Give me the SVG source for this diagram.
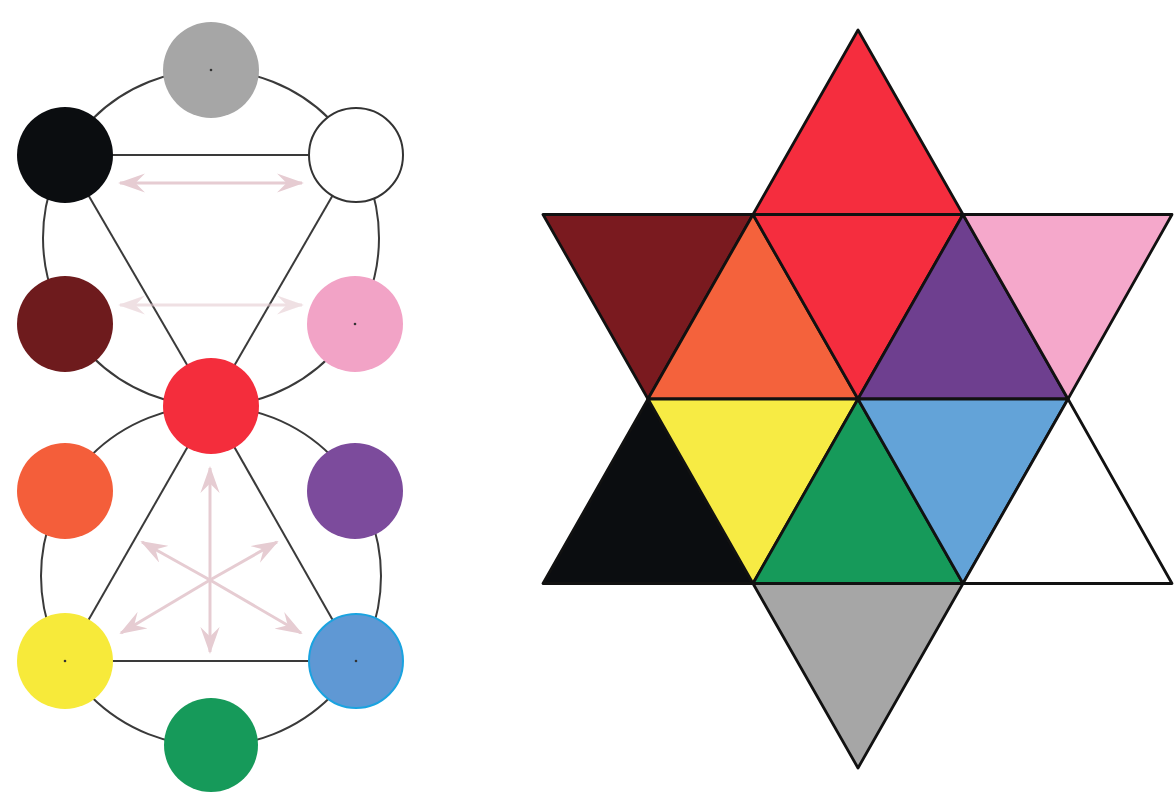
<svg xmlns="http://www.w3.org/2000/svg" width="1176" height="792" viewBox="0 0 1176 792">
<style>
.ring{fill:none;stroke:#3a3a3a;stroke-width:2}
.edge{stroke:#3a3a3a;stroke-width:2;fill:none}
.pk{stroke:#e6ccd2;stroke-width:3;fill:none}
.node{stroke:none}
.dot{fill:#333}
.tri{stroke:#111;stroke-width:2.8;stroke-linejoin:round}
</style>
<defs>
<marker id="ah" viewBox="0 0 14 10" refX="13" refY="5" markerWidth="9" markerHeight="6.5" orient="auto-start-reverse" markerUnits="strokeWidth">
<path d="M0,0 L14,5 L0,10 L5,5 z" fill="#e6ccd2"/>
</marker>
</defs>
<rect width="1176" height="792" fill="#fff"/>
<g id="connectors">
<circle class="ring" cx="211" cy="238" r="168"/>
<circle class="ring" cx="211" cy="576" r="170"/>
<line class="edge" x1="65" y1="155" x2="356" y2="155"/>
<line class="edge" x1="65" y1="155" x2="211" y2="406"/>
<line class="edge" x1="356" y1="155" x2="211" y2="406"/>
<line class="edge" x1="211" y1="406" x2="65" y2="661"/>
<line class="edge" x1="211" y1="406" x2="356" y2="661"/>
<line class="edge" x1="65" y1="661" x2="356" y2="661"/>
<line class="pk" x1="120" y1="183" x2="302" y2="183" marker-start="url(#ah)" marker-end="url(#ah)"/>
<line class="pk" x1="120" y1="305" x2="302" y2="305" marker-start="url(#ah)" marker-end="url(#ah)" opacity="0.6"/>
<line class="pk" x1="210" y1="580" x2="210" y2="468" marker-end="url(#ah)"/>
<line class="pk" x1="210" y1="580" x2="210" y2="652" marker-end="url(#ah)"/>
<line class="pk" x1="210" y1="580" x2="142" y2="542" marker-end="url(#ah)"/>
<line class="pk" x1="210" y1="580" x2="277" y2="542" marker-end="url(#ah)"/>
<line class="pk" x1="210" y1="580" x2="121" y2="633" marker-end="url(#ah)"/>
<line class="pk" x1="210" y1="580" x2="301" y2="633" marker-end="url(#ah)"/>
</g>
<g id="n-gray"><circle class="node" cx="211" cy="70" r="48" fill="#a6a6a6"/><circle class="dot" cx="211" cy="70" r="1.3"/></g>
<g id="n-black"><circle class="node" cx="65" cy="155" r="48" fill="#0b0d10"/></g>
<g id="n-white"><circle cx="356" cy="155" r="47" fill="#fff" stroke="#333" stroke-width="2"/></g>
<g id="n-darkred"><circle class="node" cx="65" cy="324" r="48" fill="#6e1b1d"/></g>
<g id="n-pink"><circle class="node" cx="355" cy="324" r="48" fill="#f2a3c6"/><circle class="dot" cx="355" cy="324" r="1.3"/></g>
<g id="n-red"><circle class="node" cx="211" cy="406" r="48" fill="#f42d3c"/></g>
<g id="n-orange"><circle class="node" cx="65" cy="491" r="48" fill="#f45e3a"/></g>
<g id="n-purple"><circle class="node" cx="355" cy="491" r="48" fill="#7c4b9c"/></g>
<g id="n-yellow"><circle class="node" cx="65" cy="661" r="48" fill="#f7ea3a"/><circle class="dot" cx="65" cy="661" r="1.3"/></g>
<g id="n-blue"><circle cx="356" cy="661" r="47" fill="#5f98d4" stroke="#1aa3e0" stroke-width="2"/><circle class="dot" cx="356" cy="661" r="1.3"/></g>
<g id="n-green"><circle class="node" cx="211" cy="745" r="47" fill="#169a5a"/></g>
<g id="star">
<polygon class="tri" points="858,30 753,214.5 963,214.5" fill="#f52d3e"/>
<polygon class="tri" points="543,214.5 753,214.5 648,399" fill="#7a1a1f"/>
<polygon class="tri" points="753,214.5 648,399 858,399" fill="#f4623c"/>
<polygon class="tri" points="753,214.5 963,214.5 858,399" fill="#f52d3e"/>
<polygon class="tri" points="963,214.5 858,399 1068,399" fill="#6e3f8f"/>
<polygon class="tri" points="963,214.5 1172,214.5 1068,399" fill="#f5a8cb"/>
<polygon class="tri" points="648,399 543,583.5 753,583.5" fill="#0b0d10"/>
<polygon class="tri" points="648,399 858,399 753,583.5" fill="#f7eb44"/>
<polygon class="tri" points="858,399 753,583.5 963,583.5" fill="#169a5a"/>
<polygon class="tri" points="858,399 1068,399 963,583.5" fill="#63a3d8"/>
<polygon class="tri" points="1068,399 963,583.5 1172,583.5" fill="#fff"/>
<polygon class="tri" points="753,583.5 963,583.5 858,768" fill="#a6a6a6"/>
</g>
</svg>
